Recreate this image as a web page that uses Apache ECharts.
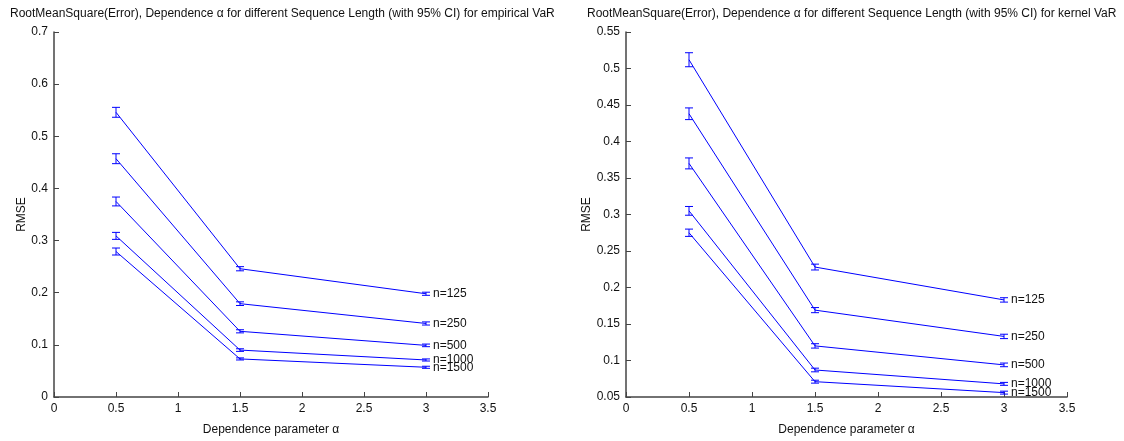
<!DOCTYPE html>
<html><head><meta charset="utf-8">
<script src="https://cdn.jsdelivr.net/npm/echarts@6/dist/echarts.min.js"></script>
<style>html,body{margin:0;padding:0;background:#fff}#c{width:1124px;height:441px}</style>
</head><body><div id="c"></div>
<script>
const alphas = [0.5, 1.5, 3];
const seriesNames = ['n=125', 'n=250', 'n=500', 'n=1000', 'n=1500'];
// empirical VaR RMSE
const empMean = [
  [0.546, 0.246, 0.198],
  [0.457, 0.179, 0.141],
  [0.375, 0.126, 0.099],
  [0.309, 0.090, 0.071],
  [0.279, 0.073, 0.057]
];
const empHalfCI = [
  [0.0095, 0.004, 0.003],
  [0.0095, 0.0035, 0.003],
  [0.0085, 0.003, 0.0025],
  [0.0067, 0.0025, 0.002],
  [0.0067, 0.002, 0.002]
];
// kernel VaR RMSE
const kerMean = [
  [0.512, 0.228, 0.183],
  [0.438, 0.169, 0.133],
  [0.370, 0.120, 0.094],
  [0.305, 0.087, 0.068],
  [0.275, 0.071, 0.056]
];
const kerHalfCI = [
  [0.0096, 0.004, 0.003],
  [0.008, 0.0035, 0.003],
  [0.0075, 0.003, 0.0025],
  [0.006, 0.0025, 0.002],
  [0.005, 0.002, 0.002]
];
const titles = [
  'RootMeanSquare(Error), Dependence \u03b1 for different Sequence Length (with 95% CI) for empirical VaR',
  'RootMeanSquare(Error), Dependence \u03b1 for different Sequence Length (with 95% CI) for kernel VaR'
];
const xName = 'Dependence parameter \u03b1';
const yName = 'RMSE';

const FONT = 'Liberation Sans, Arial, sans-serif';
const BLUE = '#0000ff';
const AX = '#444';

function xAxis(gi) {
  return {
    gridIndex: gi, type: 'value', min: 0, max: 3.5, interval: 0.5,
    name: xName, nameLocation: 'middle', nameGap: 27,
    nameTextStyle: {fontFamily: FONT, fontSize: 12, color: '#111'},
    axisLine: {show: true, lineStyle: {color: AX, width: 1.5}},
    axisTick: {show: true, inside: true, length: 5, lineStyle: {color: AX}},
    axisLabel: {fontFamily: FONT, fontSize: 12, color: '#111', margin: 6},
    splitLine: {show: false}
  };
}
function yAxis(gi, min, max, interval, fmt, gap) {
  return {
    gridIndex: gi, type: 'value', min: min, max: max, interval: interval,
    name: yName, nameLocation: 'middle', nameGap: gap, nameRotate: 90,
    nameTextStyle: {fontFamily: FONT, fontSize: 12, color: '#111'},
    axisLine: {show: true, lineStyle: {color: AX, width: 1.5}},
    axisTick: {show: true, inside: true, length: 5, lineStyle: {color: AX}},
    axisLabel: {fontFamily: FONT, fontSize: 12, color: '#111', margin: 6, formatter: fmt},
    splitLine: {show: false}
  };
}
function fmtNum(v) { return String(parseFloat(v.toFixed(3))); }

const series = [];
function addPanel(gi, means, cis) {
  means.forEach((row, i) => {
    series.push({
      type: 'line', xAxisIndex: gi, yAxisIndex: gi, name: seriesNames[i],
      data: alphas.map((a, j) => [a, row[j]]),
      symbol: 'none', lineStyle: {color: BLUE, width: 1}, silent: true,
      endLabel: {show: true, formatter: seriesNames[i], fontFamily: FONT, fontSize: 12, color: '#111', distance: 7}
    });
    series.push({
      type: 'custom', xAxisIndex: gi, yAxisIndex: gi, silent: true,
      data: alphas.map((a, j) => [a, row[j] - cis[i][j], row[j] + cis[i][j]]),
      renderItem: function (params, api) {
        const lo = api.coord([api.value(0), api.value(1)]);
        const hi = api.coord([api.value(0), api.value(2)]);
        const w = 4;
        const st = {stroke: BLUE, lineWidth: 1, fill: null};
        return {type: 'group', children: [
          {type: 'line', shape: {x1: lo[0], y1: lo[1], x2: hi[0], y2: hi[1]}, style: st},
          {type: 'line', shape: {x1: lo[0] - w, y1: lo[1], x2: lo[0] + w, y2: lo[1]}, style: st},
          {type: 'line', shape: {x1: hi[0] - w, y1: hi[1], x2: hi[0] + w, y2: hi[1]}, style: st}
        ]};
      }
    });
  });
}
addPanel(0, empMean, empHalfCI);
addPanel(1, kerMean, kerHalfCI);

const chart = echarts.init(document.getElementById('c'), null, {renderer: 'canvas'});
chart.setOption({
  animation: false,
  backgroundColor: '#fff',
  title: [
    {text: titles[0], left: 5, top: 3, textStyle: {fontFamily: FONT, fontSize: 12, fontWeight: 'normal', color: '#111'}},
    {text: titles[1], left: 582, top: 3, textStyle: {fontFamily: FONT, fontSize: 12, fontWeight: 'normal', color: '#111'}}
  ],
  grid: [
    {left: 54, top: 32, width: 434, height: 367},
    {left: 626, top: 32, width: 441, height: 366}
  ],
  xAxis: [xAxis(0), xAxis(1)],
  yAxis: [yAxis(0, 0, 0.7, 0.1, fmtNum, 26), yAxis(1, 0.05, 0.55, 0.05, fmtNum, 29)],
  series: series
});
</script></body></html>
